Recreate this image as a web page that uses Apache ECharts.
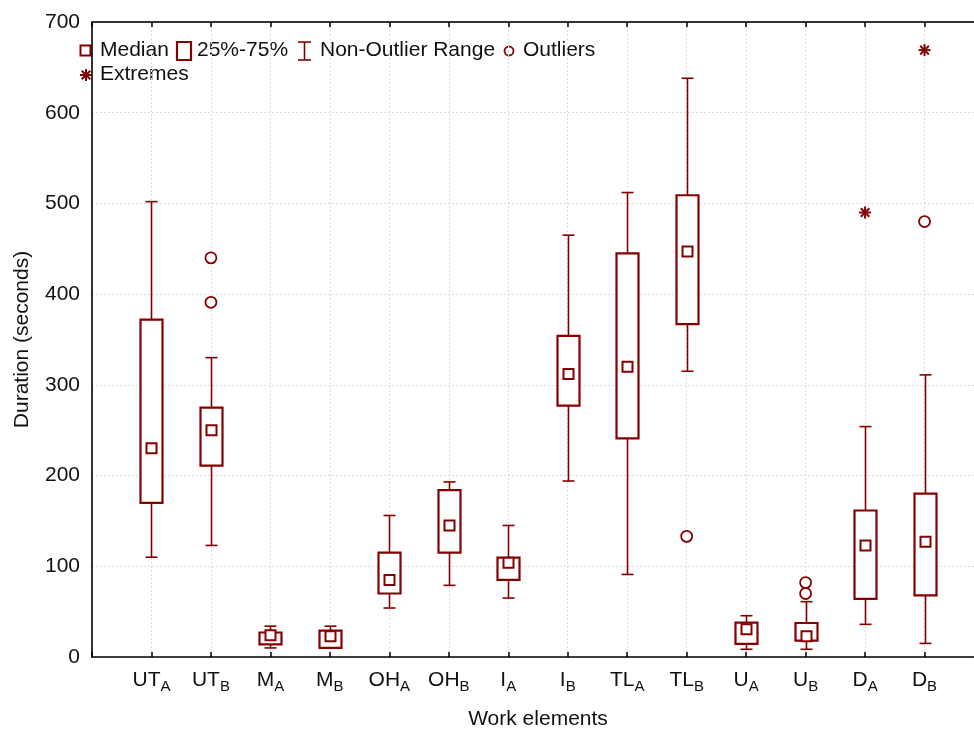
<!DOCTYPE html>
<html>
<head>
<meta charset="utf-8">
<script src="https://cdn.jsdelivr.net/npm/echarts@6/dist/echarts.min.js"></script>
<style>
html,body{margin:0;padding:0;background:#fff;}
#chart{width:974px;height:729px;}
</style>
</head>
<body>
<div id="chart"></div>
<script>
// ---- data ----
const categoryMain = ['UT','UT','M','M','OH','OH','I','I','TL','TL','U','U','D','D'];
const categorySub  = ['A','B','A','B','A','B','A','B','A','B','A','B','A','B'];
const whiskerLow  = [110, 123, 10, 10, 54, 79, 65, 194, 91, 315, 8.5, 8.5, 36, 15];
const boxLow      = [170, 211, 14, 10, 70, 115, 85, 277, 241, 367, 14.5, 18, 64, 68];
const medians     = [230, 250, 24, 23, 85, 145, 104, 312, 320, 447, 30.5, 23, 123, 127];
const boxHigh     = [372, 275, 27, 29, 115, 184, 109.5, 354, 445, 509, 38, 37.5, 161.5, 180];
const whiskerHigh = [502, 330, 34, 34, 156, 193, 145, 465, 512, 638, 45.5, 61, 254, 311];
// outliers / extremes: [category number (1-based), value]
const outlierCats   = [2, 2, 10, 12, 12, 14];
const outlierValues = [440, 391, 133, 82, 70, 480];
const extremeCats   = [13, 14];
const extremeValues = [490, 669];
const yTicks = [0, 100, 200, 300, 400, 500, 600, 700];

const RED = '#850000';
const FONT = '"Liberation Sans", Arial, sans-serif';

const boxData = categoryMain.map((_, i) => [i + 1, whiskerLow[i], boxLow[i], medians[i], boxHigh[i], whiskerHigh[i]]);
const outlierData = outlierCats.map((c, i) => [c, outlierValues[i]]);
const extremeData = extremeCats.map((c, i) => [c, extremeValues[i]]);

function renderBox(params, api) {
  const x = api.value(0);
  const c = v => api.coord([x, v]);
  const wl = c(api.value(1)), q1 = c(api.value(2)), md = c(api.value(3)), q3 = c(api.value(4)), wh = c(api.value(5));
  const cx = Math.round(md[0]) + 0.5;
  const hb = 11, hc = 6, hm = 5;
  const thin = {stroke: RED, lineWidth: 1.6, fill: null};
  const thick = {stroke: RED, lineWidth: 2.2, fill: '#fff'};
  const children = [];
  if (wl[1] - q1[1] > 0.5) {
    children.push({type: 'line', shape: {x1: cx, y1: q1[1], x2: cx, y2: wl[1]}, style: thin});
  }
  children.push({type: 'line', shape: {x1: cx - hc, y1: wl[1], x2: cx + hc, y2: wl[1]}, style: thin});
  children.push({type: 'line', shape: {x1: cx, y1: wh[1], x2: cx, y2: q3[1]}, style: thin});
  children.push({type: 'line', shape: {x1: cx - hc, y1: wh[1], x2: cx + hc, y2: wh[1]}, style: thin});
  children.push({type: 'rect', shape: {x: cx - hb, y: q3[1], width: 2 * hb, height: q1[1] - q3[1]}, style: thick});
  children.push({type: 'rect', shape: {x: cx - hm, y: md[1] - hm, width: 2 * hm, height: 2 * hm}, style: {stroke: RED, lineWidth: 2, fill: '#fff'}});
  return {type: 'group', children};
}

function renderOutlier(params, api) {
  const p = api.coord([api.value(0), api.value(1)]);
  return {type: 'circle', shape: {cx: p[0], cy: p[1], r: 5.5}, style: {stroke: RED, lineWidth: 1.8, fill: '#fff'}};
}

function asteriskChildren(cx, cy, r) {
  const st = {stroke: RED, lineWidth: 2};
  const d = r * 0.72;
  return [
    {type: 'line', shape: {x1: cx - r, y1: cy, x2: cx + r, y2: cy}, style: st},
    {type: 'line', shape: {x1: cx, y1: cy - r, x2: cx, y2: cy + r}, style: st},
    {type: 'line', shape: {x1: cx - d, y1: cy - d, x2: cx + d, y2: cy + d}, style: st},
    {type: 'line', shape: {x1: cx - d, y1: cy + d, x2: cx + d, y2: cy - d}, style: st}
  ];
}

function renderExtreme(params, api) {
  const p = api.coord([api.value(0), api.value(1)]);
  return {type: 'group', children: asteriskChildren(p[0], p[1], 6)};
}

const chart = echarts.init(document.getElementById('chart'), null, {renderer: 'canvas'});

const textStyle = (x, y, text) => ({
  type: 'text', left: x, top: y - 11,
  style: {text: text, font: '21px ' + FONT, fill: '#111', textVerticalAlign: 'top'}
});

const legendGraphics = [
  {type: 'rect', shape: {x: 80.5, y: 45.5, width: 10, height: 10}, style: {stroke: RED, lineWidth: 2, fill: '#fff'}},
  textStyle(100, 51, 'Median'),
  {type: 'rect', shape: {x: 177, y: 42, width: 14, height: 18}, style: {stroke: RED, lineWidth: 2.2, fill: '#fff'}},
  textStyle(197, 51, '25%-75%'),
  {type: 'line', shape: {x1: 304.5, y1: 42, x2: 304.5, y2: 60}, style: {stroke: RED, lineWidth: 1.6}},
  {type: 'line', shape: {x1: 298, y1: 42, x2: 311, y2: 42}, style: {stroke: RED, lineWidth: 1.6}},
  {type: 'line', shape: {x1: 298, y1: 60, x2: 311, y2: 60}, style: {stroke: RED, lineWidth: 1.6}},
  textStyle(320, 51, 'Non-Outlier Range'),
  {type: 'circle', shape: {cx: 509, cy: 51, r: 4.5}, style: {stroke: RED, lineWidth: 1.8, fill: '#fff'}},
  textStyle(523, 51, 'Outliers'),
  {type: 'group', children: asteriskChildren(86, 75, 6)},
  textStyle(100, 75, 'Extremes')
];

const option = {
  backgroundColor: '#fff',
  animation: false,
  grid: {left: 92, right: -10, top: 22, bottom: 72, containLabel: false, outerBoundsMode: 'none'},
  xAxis: [{
    type: 'value', min: 0, max: 15, interval: 1,
    name: 'Work elements', nameLocation: 'middle', nameGap: 52,
    nameTextStyle: {fontFamily: FONT, fontSize: 21, color: '#111'},
    axisLine: {show: true, lineStyle: {color: '#000', width: 1.6}},
    axisTick: {show: true, inside: true, length: 5, lineStyle: {color: '#000', width: 1.5}},
    splitLine: {show: true, lineStyle: {color: '#dcdcdc', type: [2, 2], width: 1}},
    axisLabel: {
      margin: 13,
      formatter: v => (v >= 1 && v <= 14) ? '{m|' + categoryMain[v - 1] + '}{s|' + categorySub[v - 1] + '}' : '',
      rich: {
        m: {fontFamily: FONT, fontSize: 21, color: '#111', lineHeight: 24, verticalAlign: 'top'},
        s: {fontFamily: FONT, fontSize: 15, color: '#111', lineHeight: 24, verticalAlign: 'bottom', padding: [12, 0, 0, 0]}
      }
    }
  }, {
    type: 'value', min: 0, max: 15, interval: 1, position: 'top',
    axisLine: {show: true, lineStyle: {color: '#333', width: 2}},
    axisTick: {show: true, inside: true, length: 5, lineStyle: {color: '#000', width: 1.5}},
    axisLabel: {show: false}, splitLine: {show: false}
  }],
  yAxis: {
    type: 'value', min: 0, max: 700, interval: 100,
    name: 'Duration (seconds)', nameLocation: 'middle', nameGap: 59, nameRotate: 90,
    nameTextStyle: {fontFamily: FONT, fontSize: 21, color: '#111'},
    axisLine: {show: true, lineStyle: {color: '#000', width: 1.6}},
    axisTick: {show: false},
    splitLine: {show: true, lineStyle: {color: '#dcdcdc', type: [2, 2], width: 1}},
    axisLabel: {
      margin: 12, fontFamily: FONT, fontSize: 21, color: '#111',
      formatter: v => yTicks.indexOf(v) >= 0 ? String(v) : ''
    }
  },
  series: [
    {type: 'custom', name: 'box', renderItem: renderBox, data: boxData, encode: {x: 0, y: [1, 2, 3, 4, 5]}, clip: false, z: 3},
    {type: 'custom', name: 'Outliers', renderItem: renderOutlier, data: outlierData, encode: {x: 0, y: 1}, z: 4},
    {type: 'custom', name: 'Extremes', renderItem: renderExtreme, data: extremeData, encode: {x: 0, y: 1}, z: 4}
  ],
  graphic: legendGraphics
};
chart.setOption(option);
</script>
</body>
</html>
